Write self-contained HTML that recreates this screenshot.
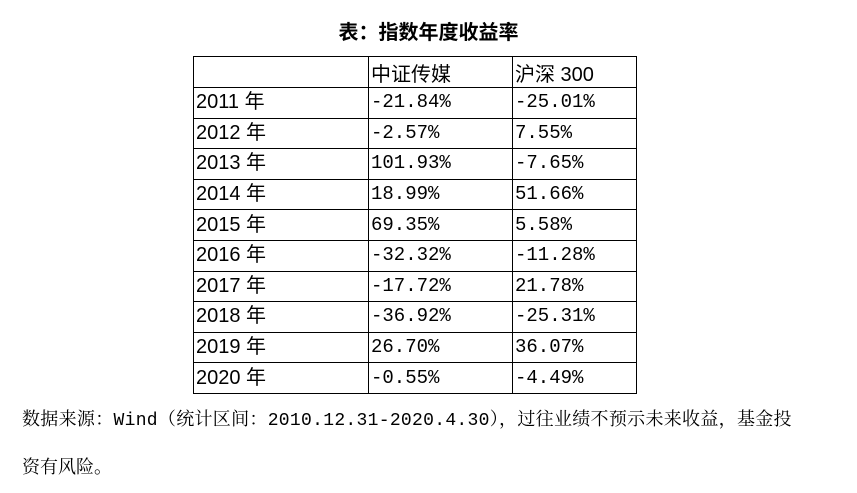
<!DOCTYPE html>
<html><head><meta charset="utf-8"><style>
body{margin:0;width:857px;height:493px;background:#fff;position:relative;overflow:hidden;font-family:"Liberation Serif","Noto Serif CJK SC",serif;color:#000}
#title{position:absolute;left:0;width:857px;top:16px;text-align:center;font:bold 20px "Liberation Sans","Noto Sans CJK SC",sans-serif}
table{position:absolute;left:193px;top:56px;border-collapse:collapse}
td{border:1.5px solid #000;height:29.6px;padding:0 0 0 2px;font-size:19px;line-height:29px;white-space:nowrap}
td.y{width:172px;font-family:"Liberation Sans","Noto Sans CJK SC",sans-serif;font-size:20px}
td.a{width:141px;font-family:"Liberation Mono","Noto Serif CJK SC",monospace;font-size:19px}
td.b{width:121px;font-family:"Liberation Mono","Noto Serif CJK SC",monospace;font-size:19px}
th{border:1.5px solid #000;height:30px;text-align:left;font-weight:normal;padding:0 0 0 2px;font:20px "Liberation Sans","Noto Sans CJK SC",sans-serif}
.note{position:absolute;left:22px;font:18px "Liberation Mono","Noto Serif CJK SC",serif;white-space:nowrap}
</style></head><body>
<div id="title">表：指数年度收益率</div>
<table>
<tr><th></th><th>中证传媒</th><th>沪深 300</th></tr>
<tr><td class="y">2011 年</td><td class="a">-21.84%</td><td class="b">-25.01%</td></tr>
<tr><td class="y">2012 年</td><td class="a">-2.57%</td><td class="b">7.55%</td></tr>
<tr><td class="y">2013 年</td><td class="a">101.93%</td><td class="b">-7.65%</td></tr>
<tr><td class="y">2014 年</td><td class="a">18.99%</td><td class="b">51.66%</td></tr>
<tr><td class="y">2015 年</td><td class="a">69.35%</td><td class="b">5.58%</td></tr>
<tr><td class="y">2016 年</td><td class="a">-32.32%</td><td class="b">-11.28%</td></tr>
<tr><td class="y">2017 年</td><td class="a">-17.72%</td><td class="b">21.78%</td></tr>
<tr><td class="y">2018 年</td><td class="a">-36.92%</td><td class="b">-25.31%</td></tr>
<tr><td class="y">2019 年</td><td class="a">26.70%</td><td class="b">36.07%</td></tr>
<tr><td class="y">2020 年</td><td class="a">-0.55%</td><td class="b">-4.49%</td></tr>
</table>
<div class="note" style="top:405px;letter-spacing:0.3px">数据来源：Wind（统计区间：2010.12.31-2020.4.30），过往业绩不预示未来收益，基金投</div>
<div class="note" style="top:453px">资有风险。</div>
</body></html>
